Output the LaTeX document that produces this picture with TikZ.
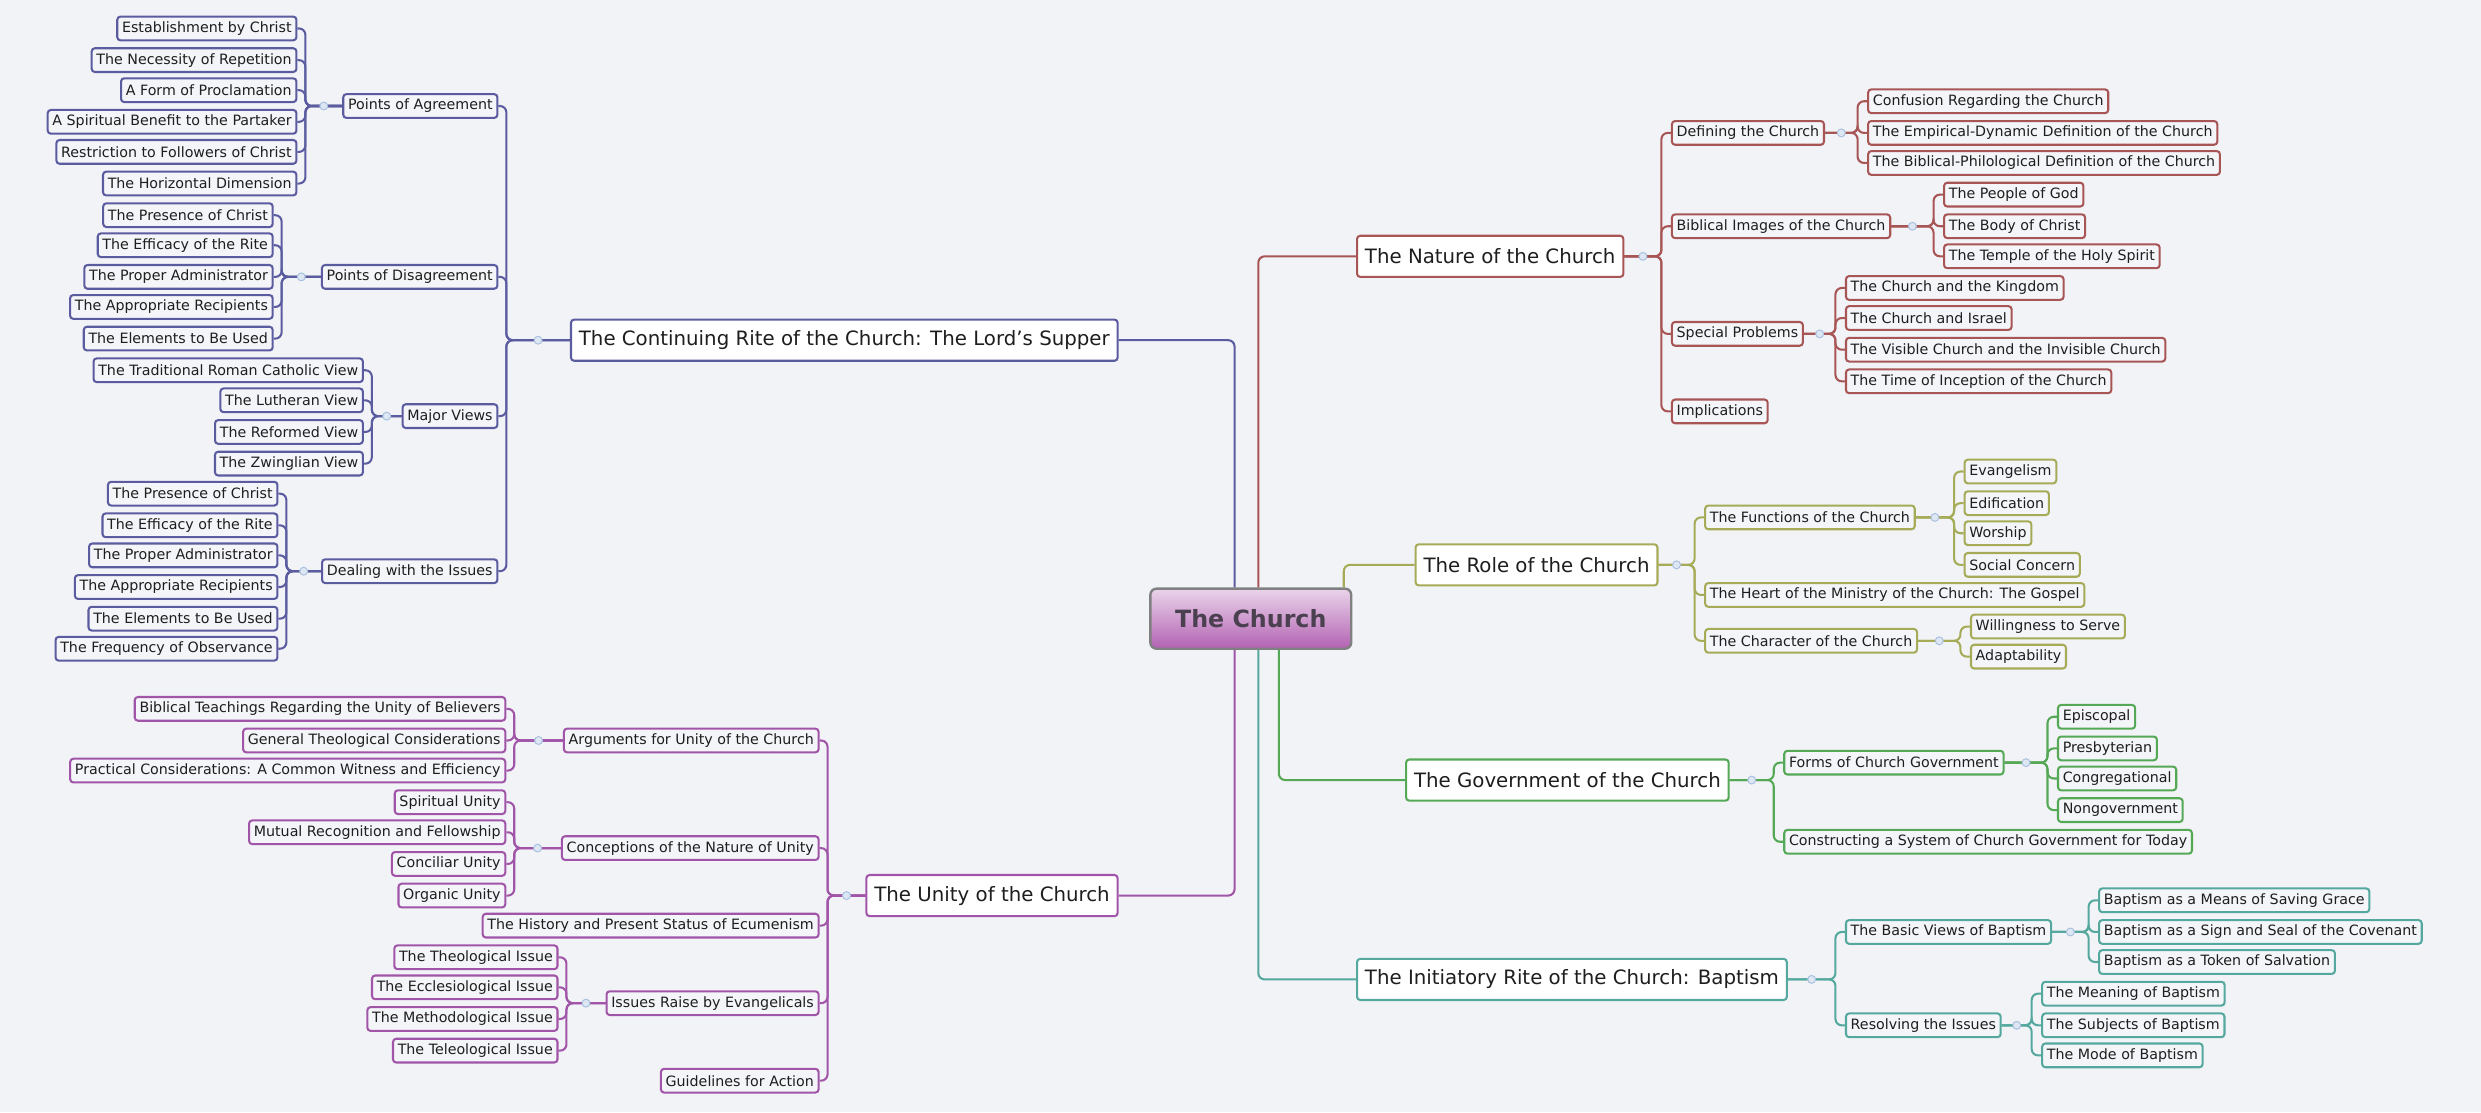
\documentclass[tikz,border=0pt]{standalone}
\usepackage{fontspec}
\setmainfont{DejaVu Sans}
\usetikzlibrary{calc}
\definecolor{bgc}{HTML}{F2F3F7}
\definecolor{leaffill}{HTML}{F4F5F9}
\definecolor{txt}{HTML}{1E1E1E}
\definecolor{cB}{HTML}{5B5BA0}
\definecolor{cR}{HTML}{A85555}
\definecolor{cO}{HTML}{A6AB58}
\definecolor{cG}{HTML}{55A855}
\definecolor{cT}{HTML}{55A89E}
\definecolor{cP}{HTML}{A055A8}
\definecolor{markc}{HTML}{A8C0E0}
\definecolor{markf}{HTML}{DDE6F3}
\colorlet{cc}{cB}
\tikzset{
 leaf/.style={draw=cc, line width=1.3pt, rounded corners=2pt, fill=leaffill, text=txt,
   font=\fontsize{9}{11}\selectfont, inner xsep=3pt, inner ysep=0pt, minimum height=15pt},
 mainbox/.style={leaf, fill=white, font=\fontsize{12.5}{15}\selectfont, minimum height=26pt, inner xsep=5pt},
 con/.style={draw=cc, line width=1.3pt, rounded corners=4pt},
 mk/.style={circle, draw=markc, fill=markf, inner sep=0pt, minimum size=5pt, line width=0.6pt},
}
\newcommand\conR[3]{\draw[con] (#1.east) -- (#1.east -| #2) |- (#3.west);}
\newcommand\conL[3]{\draw[con] (#1.west) -- (#1.west -| #2) |- (#3.east);}
\newcommand\mymkR[2]{\node[mk] at ($(#1.east)!0.5!(#1.east -| #2)$) {};}
\newcommand\mymkL[2]{\node[mk] at ($(#1.west)!0.5!(#1.west -| #2)$) {};}
\begin{document}
\begin{tikzpicture}[x=1pt,y=-1pt]
\useasboundingbox (0,0) rectangle (1568,703);
\fill[bgc] (0,0) rectangle (1568,703);
% root
\node[draw={rgb,255:red,128;green,128;blue,128}, line width=1.5pt, rounded corners=4pt,
  top color={rgb,255:red,234;green,212;blue,234}, bottom color={rgb,255:red,178;green,98;blue,178},
  minimum width=127pt, minimum height=38pt, font=\fontsize{15}{18}\selectfont\bfseries,
  text={rgb,255:red,74;green,64;blue,80}] (root) at (790.5,391) {The Church};

% ===== Lord's Supper (blue)
\begin{scope}
\colorlet{cc}{cB}
\node[mainbox,anchor=east] (sup) at (707,215) {The Continuing Rite of the Church: The Lord's Supper};
\draw[con] ($(root.north west)+(54,0)$) |- (sup.east);
\coordinate (bS) at (320,0);
\node[leaf,anchor=east] (agr) at (315,67) {Points of Agreement};
\node[leaf,anchor=east] (dis) at (315,175) {Points of Disagreement};
\node[leaf,anchor=east] (maj) at (315,263) {Major Views};
\node[leaf,anchor=east] (dea) at (315,361) {Dealing with the Issues};
\foreach \n in {agr,dis,maj,dea}{\conL{sup}{bS}{\n}}
\mymkL{sup}{bS}
\coordinate (bA) at (193,0);
\foreach \y/\t [count=\i] in {18/Establishment by Christ,38/The Necessity of Repetition,57/A Form of Proclamation,77/A Spiritual Benefit to the Partaker,96/Restriction to Followers of Christ,116/The Horizontal Dimension}{
 \node[leaf,anchor=east] (agr\i) at (188,\y) {\t}; \conL{agr}{bA}{agr\i}}
\mymkL{agr}{bA}
\coordinate (bDi) at (178,0);
\foreach \y/\t [count=\i] in {136/The Presence of Christ,155/The Efficacy of the Rite,175/The Proper Administrator,194/The Appropriate Recipients,214/The Elements to Be Used}{
 \node[leaf,anchor=east] (dis\i) at (173,\y) {\t}; \conL{dis}{bDi}{dis\i}}
\mymkL{dis}{bDi}
\coordinate (bM) at (235,0);
\foreach \y/\t [count=\i] in {234/The Traditional Roman Catholic View,253/The Lutheran View,273/The Reformed View,293/The Zwinglian View}{
 \node[leaf,anchor=east] (maj\i) at (230,\y) {\t}; \conL{maj}{bM}{maj\i}}
\mymkL{maj}{bM}
\coordinate (bDe) at (181,0);
\foreach \y/\t [count=\i] in {312/The Presence of Christ,332/The Efficacy of the Rite,351/The Proper Administrator,371/The Appropriate Recipients,391/The Elements to Be Used,410/The Frequency of Observance}{
 \node[leaf,anchor=east] (dea\i) at (176,\y) {\t}; \conL{dea}{bDe}{dea\i}}
\mymkL{dea}{bDe}
\end{scope}

% ===== Unity (purple)
\begin{scope}
\colorlet{cc}{cP}
\node[mainbox,anchor=east] (uni) at (707,566) {The Unity of the Church};
\draw[con] ($(root.south west)+(54,0)$) |- (uni.east);
\coordinate (bU) at (523,0);
\node[leaf,anchor=east] (arg) at (518,468) {Arguments for Unity of the Church};
\node[leaf,anchor=east] (cnc) at (518,536) {Conceptions of the Nature of Unity};
\node[leaf,anchor=east] (his) at (518,585) {The History and Present Status of Ecumenism};
\node[leaf,anchor=east] (iss) at (518,634) {Issues Raise by Evangelicals};
\node[leaf,anchor=east] (gui) at (518,683) {Guidelines for Action};
\foreach \n in {arg,cnc,his,iss,gui}{\conL{uni}{bU}{\n}}
\mymkL{uni}{bU}
\coordinate (bAr) at (325,0);
\foreach \y/\t [count=\i] in {448/Biblical Teachings Regarding the Unity of Believers,468/General Theological Considerations,487/Practical Considerations: A Common Witness and Efficiency}{
 \node[leaf,anchor=east] (arg\i) at (320,\y) {\t}; \conL{arg}{bAr}{arg\i}}
\mymkL{arg}{bAr}
\foreach \y/\t [count=\i] in {507/Spiritual Unity,526/Mutual Recognition and Fellowship,546/Conciliar Unity,566/Organic Unity}{
 \node[leaf,anchor=east] (cnc\i) at (320,\y) {\t}; \conL{cnc}{bAr}{cnc\i}}
\mymkL{cnc}{bAr}
\coordinate (bI) at (358,0);
\foreach \y/\t [count=\i] in {605/The Theological Issue,624/The Ecclesiological Issue,644/The Methodological Issue,664/The Teleological Issue}{
 \node[leaf,anchor=east] (iss\i) at (353,\y) {\t}; \conL{iss}{bI}{iss\i}}
\mymkL{iss}{bI}
\end{scope}

% ===== Nature (red)
\begin{scope}
\colorlet{cc}{cR}
\node[mainbox,anchor=west] (nat) at (857,162) {The Nature of the Church};
\draw[con] ($(root.north west)+(69,0)$) |- (nat.west);
\coordinate (bN) at (1050,0);
\node[leaf,anchor=west] (def) at (1056,84) {Defining the Church};
\node[leaf,anchor=west] (img) at (1056,143) {Biblical Images of the Church};
\node[leaf,anchor=west] (spe) at (1056,211) {Special Problems};
\node[leaf,anchor=west] (imp) at (1056,260) {Implications};
\foreach \n in {def,img,spe,imp}{\conR{nat}{bN}{\n}}
\mymkR{nat}{bN}
\coordinate (bDf) at (1174,0);
\foreach \y/\t [count=\i] in {64/Confusion Regarding the Church,84/The Empirical-Dynamic Definition of the Church,103/The Biblical-Philological Definition of the Church}{
 \node[leaf,anchor=west] (def\i) at (1180,\y) {\t}; \conR{def}{bDf}{def\i}}
\mymkR{def}{bDf}
\coordinate (bIm) at (1222,0);
\foreach \y/\t [count=\i] in {123/The People of God,143/The Body of Christ,162/The Temple of the Holy Spirit}{
 \node[leaf,anchor=west] (img\i) at (1228,\y) {\t}; \conR{img}{bIm}{img\i}}
\mymkR{img}{bIm}
\coordinate (bSp) at (1160,0);
\foreach \y/\t [count=\i] in {182/The Church and the Kingdom,201/The Church and Israel,221/The Visible Church and the Invisible Church,241/The Time of Inception of the Church}{
 \node[leaf,anchor=west] (spe\i) at (1166,\y) {\t}; \conR{spe}{bSp}{spe\i}}
\mymkR{spe}{bSp}
\end{scope}

% ===== Role (olive)
\begin{scope}
\colorlet{cc}{cO}
\node[mainbox,anchor=west] (rol) at (894,357) {The Role of the Church};
\draw[con] ($(root.north west)+(123,0)$) |- (rol.west);
\coordinate (bR) at (1071,0);
\node[leaf,anchor=west] (fun) at (1077,327) {The Functions of the Church};
\node[leaf,anchor=west] (hea) at (1077,376) {The Heart of the Ministry of the Church: The Gospel};
\node[leaf,anchor=west] (cha) at (1077,405) {The Character of the Church};
\foreach \n in {fun,hea,cha}{\conR{rol}{bR}{\n}}
\mymkR{rol}{bR}
\coordinate (bF) at (1235,0);
\foreach \y/\t [count=\i] in {298/Evangelism,318/Edification,337/Worship,357/Social Concern}{
 \node[leaf,anchor=west] (fun\i) at (1241,\y) {\t}; \conR{fun}{bF}{fun\i}}
\mymkR{fun}{bF}
\coordinate (bC) at (1239,0);
\foreach \y/\t [count=\i] in {396/Willingness to Serve,415/Adaptability}{
 \node[leaf,anchor=west] (cha\i) at (1245,\y) {\t}; \conR{cha}{bC}{cha\i}}
\mymkR{cha}{bC}
\end{scope}

% ===== Government (green)
\begin{scope}
\colorlet{cc}{cG}
\node[mainbox,anchor=west] (gov) at (888,493) {The Government of the Church};
\draw[con] ($(root.south west)+(82,0)$) |- (gov.west);
\coordinate (bG) at (1121,0);
\node[leaf,anchor=west] (frm) at (1127,482) {Forms of Church Government};
\node[leaf,anchor=west] (cst) at (1127,532) {Constructing a System of Church Government for Today};
\foreach \n in {frm,cst}{\conR{gov}{bG}{\n}}
\mymkR{gov}{bG}
\coordinate (bFo) at (1294,0);
\foreach \y/\t [count=\i] in {453/Episcopal,473/Presbyterian,492/Congregational,512/Nongovernment}{
 \node[leaf,anchor=west] (frm\i) at (1300,\y) {\t}; \conR{frm}{bFo}{frm\i}}
\mymkR{frm}{bFo}
\end{scope}

% ===== Baptism (teal)
\begin{scope}
\colorlet{cc}{cT}
\node[mainbox,anchor=west] (bap) at (857,619) {The Initiatory Rite of the Church: Baptism};
\draw[con] ($(root.south west)+(69,0)$) |- (bap.west);
\coordinate (bB) at (1160,0);
\node[leaf,anchor=west] (bas) at (1166,589) {The Basic Views of Baptism};
\node[leaf,anchor=west] (res) at (1166,648) {Resolving the Issues};
\foreach \n in {bas,res}{\conR{bap}{bB}{\n}}
\mymkR{bap}{bB}
\coordinate (bBa) at (1320,0);
\foreach \y/\t [count=\i] in {569/Baptism as a Means of Saving Grace,589/Baptism as a Sign and Seal of the Covenant,608/Baptism as a Token of Salvation}{
 \node[leaf,anchor=west] (bas\i) at (1326,\y) {\t}; \conR{bas}{bBa}{bas\i}}
\mymkR{bas}{bBa}
\coordinate (bRe) at (1284,0);
\foreach \y/\t [count=\i] in {628/The Meaning of Baptism,648/The Subjects of Baptism,667/The Mode of Baptism}{
 \node[leaf,anchor=west] (res\i) at (1290,\y) {\t}; \conR{res}{bRe}{res\i}}
\mymkR{res}{bRe}
\end{scope}
\end{tikzpicture}
\end{document}
